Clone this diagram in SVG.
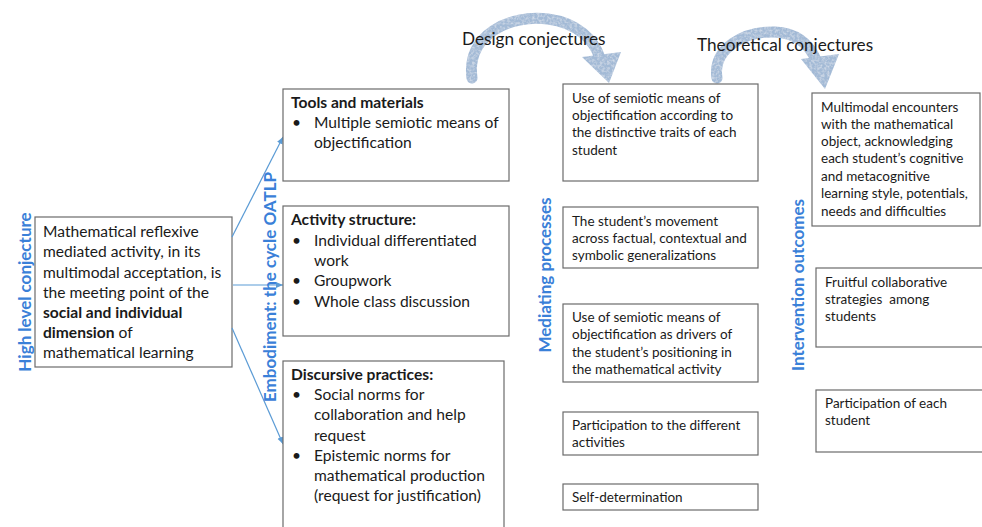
<svg xmlns="http://www.w3.org/2000/svg" width="982" height="527" viewBox="0 0 982 527">
<style>
  .box { fill: #ffffff; stroke: #6b6b6b; stroke-width: 1.2; }
  .t { font-family: Lato, "Open Sans", sans-serif; fill: #1a1a1a; }
  .l { font-size: 15.6px; }
  .s { font-size: 13.5px; }
  .b { font-weight: bold; }
  .v { font-family: Lato, "Open Sans", sans-serif; font-weight: bold; font-size: 17px; fill: #3a80d8; text-anchor: middle; }
  .hdr { font-family: Lato, "Open Sans", sans-serif; font-size: 17.2px; fill: #1a1a1a; }
  .conn { stroke: #5b9bd5; stroke-width: 1.2; fill: none; marker-end: url(#ah); }
  .band { stroke: #a3bad6; stroke-width: 11; fill: none; stroke-linecap: round; }
  .head { fill: #a3bad6; }
</style>
<defs>
  <marker id="ah" markerWidth="8" markerHeight="8" refX="7" refY="4" orient="auto" markerUnits="userSpaceOnUse">
    <path d="M0,1 L7,4 L0,7 Z" fill="#5b9bd5"/>
  </marker>
  <filter id="chalk" x="-10%" y="-10%" width="120%" height="120%">
    <feTurbulence type="fractalNoise" baseFrequency="0.4" numOctaves="2" seed="3" result="n"/>
    <feColorMatrix in="n" type="matrix" values="0 0 0 0 1  0 0 0 0 1  0 0 0 0 1  0 0 0 -0.9 0.55" result="w"/>
    <feComposite in="w" in2="SourceGraphic" operator="in" result="spots"/>
    <feMerge><feMergeNode in="SourceGraphic"/><feMergeNode in="spots"/></feMerge>
  </filter>
</defs>
<rect width="982" height="527" fill="#ffffff"/>

<g id="design-arrow" filter="url(#chalk)">
  <path class="band" d="M472,78 C466,35 510,14 548,19 C578,23 594,40 600,58"/>
  <polygon class="head" points="582,57 621,52 609,83"/>
</g>
<g id="theory-arrow" filter="url(#chalk)">
  <path class="band" d="M717,78 C712,48 745,31 775,32 C798,33 810,46 816,60"/>
  <polygon class="head" points="801,59 839,54 825,89"/>
</g>
<text class="hdr" x="462" y="45">Design conjectures</text>
<text class="hdr" x="697" y="51">Theoretical conjectures</text>

<g id="high-level">
  <text class="v" transform="translate(31,292) rotate(-90)">High level conjecture</text>
  <rect class="box" x="35" y="217" width="197" height="150"/>
  <text class="t l" x="43" y="237">Mathematical reflexive</text>
  <text class="t l" x="43" y="257">mediated activity, in its</text>
  <text class="t l" x="43" y="278">multimodal acceptation, is</text>
  <text class="t l" x="43" y="298">the meeting point of the</text>
  <text class="t l b" x="43" y="318">social and individual</text>
  <text class="t l" x="43" y="338"><tspan class="b">dimension</tspan> of</text>
  <text class="t l" x="43" y="358">mathematical learning</text>
</g>

<g id="connectors">
  <line class="conn" x1="232" y1="237" x2="283" y2="137"/>
  <line class="conn" x1="233" y1="285" x2="283" y2="285"/>
  <line class="conn" x1="232" y1="328" x2="283" y2="444"/>
</g>

<g id="embodiment-label">
  <text class="v" transform="translate(276,287) rotate(-90)">Embodiment: the cycle OATLP</text>
</g>

<g id="tools">
  <rect class="box" x="283" y="89" width="226" height="92"/>
  <text class="t l b" x="291" y="108">Tools and materials</text>
  <text class="t l" x="292" y="128">•</text>
  <text class="t l" x="314" y="128">Multiple semiotic means of</text>
  <text class="t l" x="314" y="148">objectification</text>
</g>

<g id="activity">
  <rect class="box" x="283" y="206" width="226" height="130"/>
  <text class="t l b" x="291" y="225">Activity structure:</text>
  <text class="t l" x="292" y="246">•</text>
  <text class="t l" x="314" y="246">Individual differentiated</text>
  <text class="t l" x="314" y="266">work</text>
  <text class="t l" x="292" y="286">•</text>
  <text class="t l" x="314" y="286">Groupwork</text>
  <text class="t l" x="292" y="307">•</text>
  <text class="t l" x="314" y="307">Whole class discussion</text>
</g>

<g id="discursive">
  <rect class="box" x="283" y="361" width="221" height="175"/>
  <text class="t l b" x="291" y="380">Discursive practices:</text>
  <text class="t l" x="292" y="400">•</text>
  <text class="t l" x="314" y="400">Social norms for</text>
  <text class="t l" x="314" y="420">collaboration and help</text>
  <text class="t l" x="314" y="441">request</text>
  <text class="t l" x="292" y="461">•</text>
  <text class="t l" x="314" y="461">Epistemic norms for</text>
  <text class="t l" x="314" y="481">mathematical production</text>
  <text class="t l" x="314" y="501">(request for justification)</text>
</g>

<g id="mediating-label">
  <text class="v" transform="translate(551,275) rotate(-90)">Mediating processes</text>
</g>

<g id="mp1">
  <rect class="box" x="563" y="84" width="195" height="97"/>
  <text class="t s" x="572" y="103">Use of semiotic means of</text>
  <text class="t s" x="572" y="120">objectification according to</text>
  <text class="t s" x="572" y="137">the distinctive traits of each</text>
  <text class="t s" x="572" y="155">student</text>
</g>
<g id="mp2">
  <rect class="box" x="563" y="207" width="195" height="61"/>
  <text class="t s" x="572" y="226">The student’s movement</text>
  <text class="t s" x="572" y="243">across factual, contextual and</text>
  <text class="t s" x="572" y="260">symbolic generalizations</text>
</g>
<g id="mp3">
  <rect class="box" x="563" y="304" width="195" height="78"/>
  <text class="t s" x="572" y="322">Use of semiotic means of</text>
  <text class="t s" x="572" y="339">objectification as drivers of</text>
  <text class="t s" x="572" y="357">the student’s positioning in</text>
  <text class="t s" x="572" y="374">the mathematical activity</text>
</g>
<g id="mp4">
  <rect class="box" x="563" y="412" width="195" height="43"/>
  <text class="t s" x="572" y="430">Participation to the different</text>
  <text class="t s" x="572" y="447">activities</text>
</g>
<g id="mp5">
  <rect class="box" x="563" y="484" width="195" height="26"/>
  <text class="t s" x="572" y="502">Self-determination</text>
</g>

<g id="outcomes-label">
  <text class="v" transform="translate(804,285) rotate(-90)">Intervention outcomes</text>
</g>

<g id="io1">
  <rect class="box" x="812" y="93" width="168" height="133"/>
  <text class="t s" x="821" y="112">Multimodal encounters</text>
  <text class="t s" x="821" y="129">with the mathematical</text>
  <text class="t s" x="821" y="146">object, acknowledging</text>
  <text class="t s" x="821" y="163">each student’s cognitive</text>
  <text class="t s" x="821" y="181">and metacognitive</text>
  <text class="t s" x="821" y="198">learning style, potentials,</text>
  <text class="t s" x="821" y="216">needs and difficulties</text>
</g>
<g id="io2">
  <rect class="box" x="816" y="268" width="180" height="79"/>
  <text class="t s" x="825" y="287">Fruitful collaborative</text>
  <text class="t s" x="825" y="304" xml:space="preserve">strategies  among</text>
  <text class="t s" x="825" y="321">students</text>
</g>
<g id="io3">
  <rect class="box" x="816" y="390" width="180" height="62"/>
  <text class="t s" x="825" y="408">Participation of each</text>
  <text class="t s" x="825" y="425">student</text>
</g>
</svg>
